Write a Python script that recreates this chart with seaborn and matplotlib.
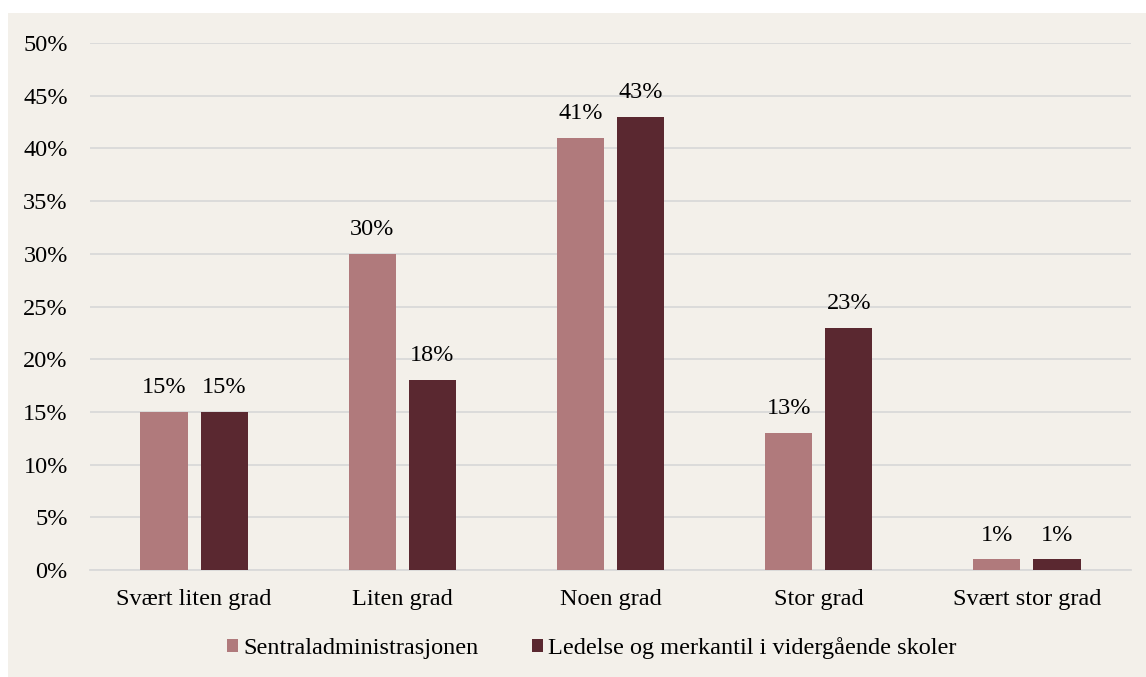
import matplotlib
matplotlib.use("Agg")
import matplotlib.pyplot as plt
import seaborn as sns
import pandas as pd
from matplotlib.patches import Rectangle

categories = ["Svært liten grad", "Liten grad", "Noen grad", "Stor grad", "Svært stor grad"]
series_names = ["Sentraladministrasjonen", "Ledelse og merkantil i vidergående skoler"]
sentral = [15, 30, 41, 13, 1]
ledelse = [15, 18, 43, 23, 1]
y_ticks = [0, 5, 10, 15, 20, 25, 30, 35, 40, 45, 50]

df = pd.DataFrame({
    "kategori": categories * 2,
    "serie": [series_names[0]] * len(categories) + [series_names[1]] * len(categories),
    "andel": sentral + ledelse,
})

sns.set_theme(style="white")
plt.rcParams["font.family"] = ["Liberation Serif", "DejaVu Serif"]
plt.rcParams["text.color"] = "black"

bg = "#F3F0EA"
colors = ["#B07A7C", "#5A2830"]
fs = 17.5

fig = plt.figure(figsize=(11.46, 6.77), dpi=100, facecolor="white")
# beige panel behind the whole chart
fig.patches.append(Rectangle((8 / 1146, 0), 1 - 8 / 1146, 1 - 13 / 677,
                             transform=fig.transFigure, facecolor=bg,
                             edgecolor="none", zorder=-10))
ax = fig.add_axes([0.0785, 0.158, 0.9085, 0.7785])
ax.set_facecolor(bg)

sns.barplot(data=df, x="kategori", y="andel", hue="serie", order=categories,
            hue_order=series_names, palette=colors, width=0.577, gap=0.216,
            saturation=1, linewidth=0, ax=ax, legend=True, zorder=3)

ax.set_xlim(-0.5, 4.5)
ax.set_ylim(0, 50)
ax.set_yticks(y_ticks)
ax.set_yticklabels([f"{t}%" for t in y_ticks])
ax.grid(axis="y", color="#D9D9D9", linewidth=1.3, zorder=0)
ax.set_axisbelow(True)
for side in ["top", "right", "left"]:
    ax.spines[side].set_visible(False)
ax.spines["bottom"].set_color("#D9D9D9")
ax.spines["bottom"].set_linewidth(1.3)
ax.tick_params(axis="both", length=0, labelsize=fs, colors="black")
ax.tick_params(axis="x", pad=14)
ax.tick_params(axis="y", pad=16)
ax.set_xlabel("")
ax.set_ylabel("")

for container in ax.containers:
    ax.bar_label(container, labels=[f"{v:.0f}%" for v in container.datavalues],
                 padding=10, fontsize=fs, color="black")

ax.legend(loc="center", bbox_to_anchor=(0.482, -0.148), ncol=2,
          frameon=False, fontsize=fs, handlelength=0.45, handleheight=0.45,
          handletextpad=0.2, columnspacing=2.2, labelcolor="black")

fig.savefig("out.png", dpi=100, facecolor=fig.get_facecolor())
